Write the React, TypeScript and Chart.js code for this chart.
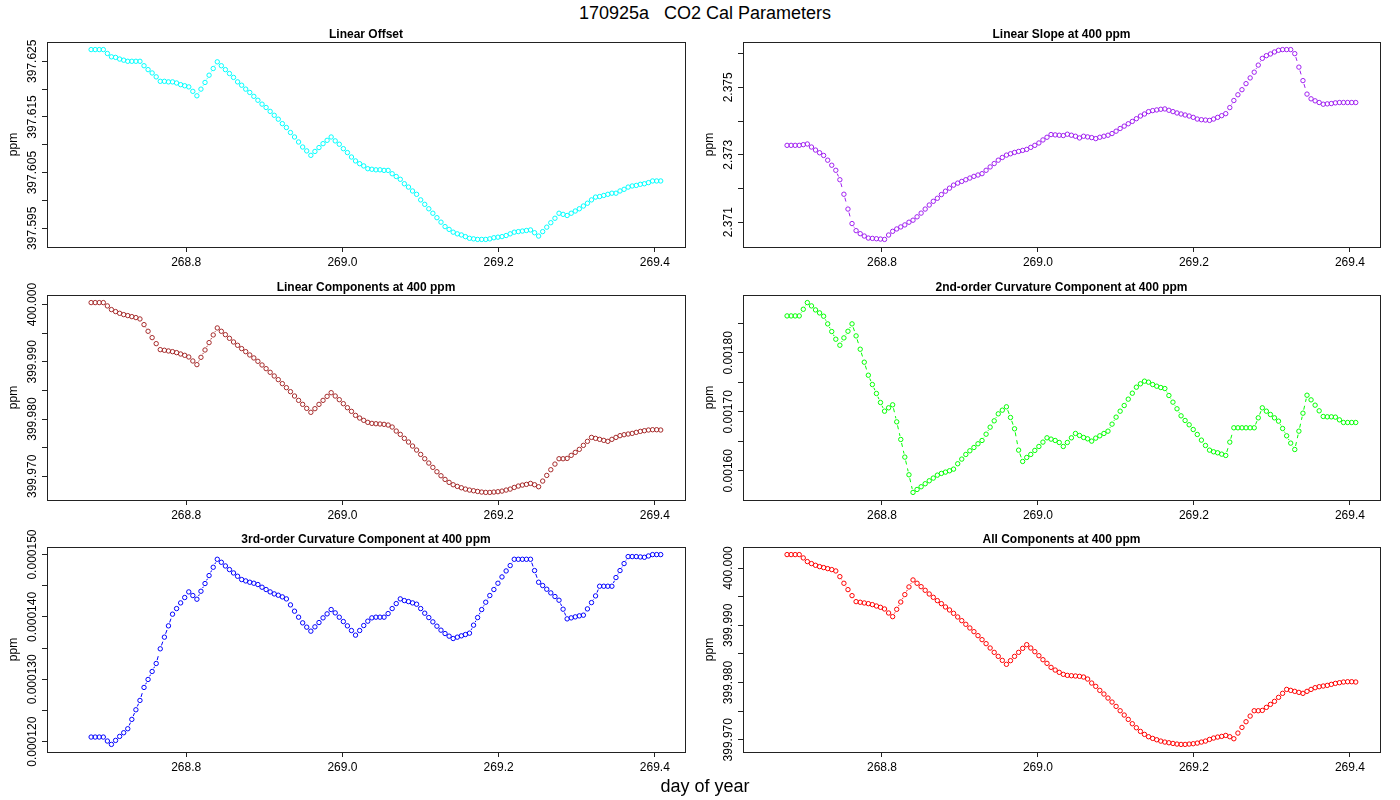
import React, { useEffect, useRef } from "react";
import { Chart, registerables } from "chart.js";

Chart.register(...registerables);

// day of year, one sample every 7.5 minutes
const days = [
  268.6783, 268.6835, 268.6887, 268.6939, 268.6991, 268.7043, 268.7096, 268.7148,
  268.72, 268.7252, 268.7304, 268.7356, 268.7408, 268.746, 268.7512, 268.7564,
  268.7616, 268.7668, 268.7721, 268.7773, 268.7825, 268.7877, 268.7929, 268.7981,
  268.8033, 268.8085, 268.8137, 268.8189, 268.8241, 268.8293, 268.8346, 268.8398,
  268.845, 268.8502, 268.8554, 268.8606, 268.8658, 268.871, 268.8762, 268.8814,
  268.8866, 268.8918, 268.8971, 268.9023, 268.9075, 268.9127, 268.9179, 268.9231,
  268.9283, 268.9335, 268.9387, 268.9439, 268.9491, 268.9543, 268.9596, 268.9648,
  268.97, 268.9752, 268.9804, 268.9856, 268.9908, 268.996, 269.0012, 269.0064,
  269.0116, 269.0168, 269.0221, 269.0273, 269.0325, 269.0377, 269.0429, 269.0481,
  269.0533, 269.0585, 269.0637, 269.0689, 269.0741, 269.0793, 269.0846, 269.0898,
  269.095, 269.1002, 269.1054, 269.1106, 269.1158, 269.121, 269.1262, 269.1314,
  269.1366, 269.1418, 269.1471, 269.1523, 269.1575, 269.1627, 269.1679, 269.1731,
  269.1783, 269.1835, 269.1887, 269.1939, 269.1991, 269.2043, 269.2096, 269.2148,
  269.22, 269.2252, 269.2304, 269.2356, 269.2408, 269.246, 269.2512, 269.2564,
  269.2616, 269.2668, 269.2721, 269.2773, 269.2825, 269.2877, 269.2929, 269.2981,
  269.3033, 269.3085, 269.3137, 269.3189, 269.3241, 269.3293, 269.3346, 269.3398,
  269.345, 269.3502, 269.3554, 269.3606, 269.3658, 269.371, 269.3762, 269.3814,
  269.3866, 269.3918, 269.3971, 269.4023, 269.4075,
];

const linearOffset = [
  397.6271, 397.6271, 397.6271, 397.6271, 397.6264, 397.6258, 397.6257, 397.6254, 397.6252, 397.625,
  397.625, 397.625, 397.625, 397.6242, 397.6235, 397.6229, 397.6222, 397.6214, 397.6214, 397.6213,
  397.6213, 397.6211, 397.6208, 397.6206, 397.6204, 397.6196, 397.6188, 397.62, 397.6212, 397.6225,
  397.6237, 397.6249, 397.6242, 397.6235, 397.6228, 397.6221, 397.6213, 397.6207, 397.62, 397.6194,
  397.6187, 397.618, 397.6173, 397.6167, 397.616, 397.6153, 397.6146, 397.6138, 397.6131, 397.6122,
  397.6114, 397.6105, 397.6096, 397.6089, 397.6081, 397.6088, 397.6095, 397.6102, 397.6108, 397.6114,
  397.6107, 397.6101, 397.6093, 397.6086, 397.6078, 397.6071, 397.6066, 397.6062, 397.6057, 397.6056,
  397.6055, 397.6055, 397.6054, 397.6054, 397.6048, 397.6043, 397.6038, 397.603, 397.6024, 397.6017,
  397.6011, 397.6001, 397.5993, 397.5985, 397.5977, 397.5969, 397.5961, 397.5953, 397.5948, 397.5943,
  397.594, 397.5938, 397.5935, 397.5932, 397.5931, 397.593, 397.593, 397.593, 397.5931, 397.5933,
  397.5934, 397.5935, 397.5937, 397.594, 397.5943, 397.5944, 397.5945, 397.5946, 397.5947, 397.5942,
  397.5936, 397.5944, 397.5952, 397.596, 397.5968, 397.5977, 397.5975, 397.5973, 397.5977, 397.5981,
  397.5985, 397.599, 397.5995, 397.6001, 397.6006, 397.6007, 397.6009, 397.6011, 397.6013, 397.6013,
  397.6017, 397.602, 397.6024, 397.6026, 397.6027, 397.6029, 397.603, 397.6032, 397.6035, 397.6035,
  397.6035,
];

const linearSlope = [
  2.37328, 2.37328, 2.37328, 2.37328, 2.3733, 2.37332, 2.37323, 2.37314, 2.37306, 2.37298,
  2.37284, 2.37269, 2.37254, 2.37226, 2.37183, 2.37139, 2.37096, 2.37075, 2.37066, 2.37059,
  2.37053, 2.37052, 2.37051, 2.3705, 2.37049, 2.37062, 2.37073, 2.3708, 2.37086, 2.37092,
  2.371, 2.37106, 2.37116, 2.37127, 2.37139, 2.37151, 2.37162, 2.37171, 2.37182, 2.37192,
  2.37201, 2.3721, 2.37216, 2.37221, 2.37226, 2.37231, 2.37236, 2.3724, 2.37244, 2.37254,
  2.37264, 2.37274, 2.37284, 2.37292, 2.37299, 2.37303, 2.37307, 2.3731, 2.37313, 2.37316,
  2.37322, 2.37328, 2.37335, 2.37344, 2.37352, 2.3736, 2.37359, 2.37358, 2.37357, 2.37361,
  2.37358, 2.37355, 2.3735, 2.37355, 2.37353, 2.37351, 2.37348, 2.37352, 2.37355, 2.37358,
  2.37363, 2.3737, 2.37378, 2.37385, 2.37392, 2.37399, 2.37407, 2.37415, 2.37421, 2.37428,
  2.37431, 2.37433, 2.37435, 2.37436, 2.37432, 2.37428, 2.37424, 2.37421, 2.37418, 2.37415,
  2.37411, 2.37406, 2.37404, 2.37403, 2.37402, 2.37406, 2.37411, 2.37416, 2.37422, 2.3744,
  2.37461, 2.37478, 2.37493, 2.37511, 2.37528, 2.37545, 2.37566, 2.37586, 2.37594, 2.37599,
  2.37605, 2.3761, 2.37612, 2.37612, 2.37612, 2.376, 2.3756, 2.3752, 2.3748, 2.37466,
  2.3746, 2.37455, 2.3745, 2.37451, 2.37452, 2.37454, 2.37455, 2.37455, 2.37455, 2.37455,
  2.37455,
];

const linearComponents = [
  400.00035, 400.00035, 400.00035, 400.00035, 399.99977, 399.99913, 399.99878, 399.99848, 399.99825, 399.99808,
  399.9979, 399.99773, 399.99749, 399.9965, 399.99534, 399.99423, 399.99318, 399.99213, 399.99202, 399.9919,
  399.99178, 399.99161, 399.99137, 399.99114, 399.99085, 399.99015, 399.98951, 399.99079, 399.99207, 399.99336,
  399.9947, 399.99592, 399.99534, 399.99475, 399.99411, 399.99347, 399.99289, 399.99231, 399.99178, 399.9912,
  399.99068, 399.99009, 399.98945, 399.98881, 399.98817, 399.98753, 399.98689, 399.98619, 399.98549, 399.98479,
  399.98403, 399.98327, 399.98257, 399.98187, 399.98118, 399.98182, 399.98257, 399.98327, 399.98397, 399.98461,
  399.98403, 399.98339, 399.98269, 399.98199, 399.98135, 399.98065, 399.98018, 399.97978, 399.97943, 399.97925,
  399.97919, 399.97914, 399.97908, 399.97896, 399.97861, 399.97791, 399.97733, 399.97663, 399.97599, 399.97529,
  399.97459, 399.97383, 399.97307, 399.97232, 399.97156, 399.9708, 399.9701, 399.96946, 399.96894, 399.96853,
  399.96824, 399.968, 399.96777, 399.9676, 399.96748, 399.96736, 399.96725, 399.96719, 399.96719, 399.96725,
  399.96731, 399.96742, 399.9676, 399.96777, 399.96806, 399.9683, 399.96847, 399.96859, 399.96876, 399.96853,
  399.96818, 399.96917, 399.97016, 399.97115, 399.97214, 399.97307, 399.97307, 399.97313, 399.97366, 399.97418,
  399.97471, 399.97541, 399.97611, 399.9768, 399.97663, 399.97646, 399.97628, 399.97611, 399.97646, 399.9768,
  399.9771, 399.97727, 399.97739, 399.9775, 399.97768, 399.97785, 399.97797, 399.97809, 399.97814, 399.97814,
  399.97809,
];

const curvature2nd = [
  0.0018627, 0.0018627, 0.0018627, 0.0018627, 0.001874, 0.0018853, 0.0018797, 0.0018729, 0.0018678, 0.0018622,
  0.0018492, 0.0018362, 0.0018232, 0.001813, 0.0018254, 0.0018367, 0.0018492, 0.0018288, 0.0018062, 0.0017842,
  0.0017621, 0.0017463, 0.0017311, 0.0017158, 0.0017011, 0.0017068, 0.0017119, 0.001683, 0.0016531, 0.0016232,
  0.0015932, 0.0015633, 0.0015683, 0.0015729, 0.001578, 0.001583, 0.0015876, 0.0015926, 0.0015955, 0.0015977,
  0.0016, 0.0016028, 0.0016119, 0.0016198, 0.0016277, 0.0016339, 0.0016395, 0.0016458, 0.0016514, 0.0016621,
  0.001674, 0.0016847, 0.0016966, 0.0017028, 0.0017085, 0.0016904, 0.0016712, 0.001635, 0.0016158, 0.0016226,
  0.0016277, 0.0016345, 0.0016412, 0.0016486, 0.0016559, 0.0016537, 0.0016514, 0.001648, 0.0016412, 0.001648,
  0.0016559, 0.0016633, 0.0016599, 0.0016565, 0.0016542, 0.0016503, 0.0016554, 0.0016593, 0.0016633, 0.0016672,
  0.0016791, 0.001691, 0.0017011, 0.0017107, 0.0017215, 0.0017316, 0.0017418, 0.0017475, 0.001752, 0.0017503,
  0.0017463, 0.0017435, 0.0017412, 0.0017395, 0.0017277, 0.0017164, 0.0017051, 0.0016932, 0.0016853, 0.001678,
  0.00167, 0.0016616, 0.001652, 0.0016429, 0.001635, 0.0016322, 0.0016305, 0.0016282, 0.001626, 0.0016486,
  0.0016729, 0.0016729, 0.0016729, 0.0016729, 0.0016729, 0.0016729, 0.0016898, 0.0017068, 0.0017011, 0.0016955,
  0.0016898, 0.0016842, 0.0016717, 0.0016593, 0.0016469, 0.0016361, 0.0016672, 0.0016977, 0.0017282, 0.0017203,
  0.0017113, 0.0017017, 0.0016921, 0.0016915, 0.0016915, 0.001691, 0.0016864, 0.0016819, 0.0016819, 0.0016819,
  0.0016819,
];

const curvature3rd = [
  0.00012075, 0.00012075, 0.00012075, 0.00012075, 0.00012011, 0.00011957, 0.00012021, 0.00012085, 0.00012144, 0.00012208,
  0.00012358, 0.00012512, 0.00012662, 0.0001287, 0.00012998, 0.00013126, 0.00013254, 0.00013489, 0.00013676, 0.00013857,
  0.00014044, 0.00014134, 0.00014225, 0.00014311, 0.00014401, 0.00014343, 0.00014284, 0.00014412, 0.00014535, 0.00014663,
  0.00014796, 0.00014924, 0.00014876, 0.00014817, 0.00014759, 0.00014705, 0.00014652, 0.00014599, 0.00014577, 0.00014556,
  0.0001454, 0.00014519, 0.00014476, 0.00014439, 0.00014401, 0.00014369, 0.00014348, 0.00014321, 0.00014289, 0.00014193,
  0.00014092, 0.00013996, 0.00013905, 0.00013836, 0.00013772, 0.00013841, 0.0001391, 0.00013985, 0.00014049, 0.00014118,
  0.00014065, 0.00013996, 0.00013926, 0.00013857, 0.00013782, 0.00013708, 0.00013782, 0.00013862, 0.00013932, 0.00013985,
  0.00013996, 0.00013996, 0.00013996, 0.00014054, 0.00014134, 0.00014214, 0.00014289, 0.00014262, 0.00014246, 0.00014225,
  0.00014204, 0.00014134, 0.0001406, 0.0001399, 0.00013921, 0.00013852, 0.00013788, 0.00013734, 0.00013692, 0.00013654,
  0.00013676, 0.00013697, 0.00013718, 0.0001374, 0.00013868, 0.0001399, 0.00014118, 0.00014236, 0.00014343, 0.00014439,
  0.0001454, 0.00014641, 0.00014737, 0.00014823, 0.00014924, 0.00014924, 0.00014924, 0.00014924, 0.00014924, 0.00014743,
  0.00014556, 0.00014503, 0.00014444, 0.00014385, 0.00014327, 0.00014268, 0.00014124, 0.00013969, 0.00013985, 0.00014001,
  0.00014017, 0.00014028, 0.00014129, 0.0001423, 0.00014337, 0.00014492, 0.00014492, 0.00014492, 0.00014492, 0.00014631,
  0.00014743, 0.00014855, 0.00014967, 0.00014967, 0.00014967, 0.00014961, 0.00014956, 0.00014977, 0.00014999, 0.00014999,
  0.00014999,
];

const allComponents = [
  400.00235, 400.00235, 400.00235, 400.00235, 400.00177, 400.00113, 400.00078, 400.00048, 400.00025, 400.00008,
  399.9999, 399.99973, 399.99949, 399.9985, 399.99734, 399.99623, 399.99518, 399.99413, 399.99402, 399.9939,
  399.99378, 399.99361, 399.99337, 399.99314, 399.99285, 399.99215, 399.99151, 399.99279, 399.99407, 399.99536,
  399.9967, 399.99792, 399.99734, 399.99675, 399.99611, 399.99547, 399.99489, 399.99431, 399.99378, 399.9932,
  399.99268, 399.99209, 399.99145, 399.99081, 399.99017, 399.98953, 399.98889, 399.98819, 399.98749, 399.98679,
  399.98603, 399.98527, 399.98457, 399.98387, 399.98318, 399.98382, 399.98457, 399.98527, 399.98597, 399.98661,
  399.98603, 399.98539, 399.98469, 399.98399, 399.98335, 399.98265, 399.98218, 399.98178, 399.98143, 399.98125,
  399.98119, 399.98114, 399.98108, 399.98096, 399.98061, 399.97991, 399.97933, 399.97863, 399.97799, 399.97729,
  399.97659, 399.97583, 399.97507, 399.97432, 399.97356, 399.9728, 399.9721, 399.97146, 399.97094, 399.97053,
  399.97024, 399.97, 399.96977, 399.9696, 399.96948, 399.96936, 399.96925, 399.96919, 399.96919, 399.96925,
  399.96931, 399.96942, 399.9696, 399.96977, 399.97006, 399.9703, 399.97047, 399.97059, 399.97076, 399.97053,
  399.97018, 399.97117, 399.97216, 399.97315, 399.97414, 399.97507, 399.97507, 399.97513, 399.97566, 399.97618,
  399.97671, 399.97741, 399.97811, 399.9788, 399.97863, 399.97846, 399.97828, 399.97811, 399.97846, 399.9788,
  399.9791, 399.97927, 399.97939, 399.9795, 399.97968, 399.97985, 399.97997, 399.98009, 399.98014, 399.98014,
  399.98009,
];

const dayTicks = [268.8, 269.0, 269.2, 269.4];

const offsetTicks = [397.595, 397.6, 397.605, 397.61, 397.615, 397.62, 397.625];
const offsetLabels = ["397.595", "397.605", "397.615", "397.625"];
const slopeTicks = [2.371, 2.372, 2.373, 2.374, 2.375, 2.376];
const slopeLabels = ["2.371", "2.373", "2.375"];
const componentTicks = [399.97, 399.975, 399.98, 399.985, 399.99, 399.995, 400.0];
const componentLabels = ["399.970", "399.980", "399.990", "400.000"];
const curv2Ticks = [0.0016, 0.00165, 0.0017, 0.00175, 0.0018, 0.00185];
const curv2Labels = ["0.00160", "0.00170", "0.00180"];
const curv3Ticks = [0.00012, 0.000125, 0.00013, 0.000135, 0.00014, 0.000145, 0.00015];
const curv3Labels = ["0.000120", "0.000130", "0.000140", "0.000150"];

const FONT = '"Liberation Sans", Arial, Helvetica, sans-serif';
const X_MIN = 268.6218;
const X_MAX = 269.4386;
const TOP_PAD = 22; // room for the panel title
const X_AXIS_H = 28;
const GAP = 3.6; // gap kept around each point by type = "b"

type PanelProps = {
  title: string;
  values: number[];
  color: string;
  ticks: number[];
  labels: string[];
  colLeft: number;
  boxLeft: number;
  boxRight: number;
  boxTop: number;
  boxBottom: number;
};

const Panel = ({ title, values, color, ticks, labels, colLeft, boxLeft, boxRight, boxTop, boxBottom }: PanelProps) => {
  const ref = useRef<HTMLCanvasElement | null>(null);
  const height = boxBottom - boxTop + TOP_PAD + X_AXIS_H;

  useEffect(() => {
    if (!ref.current) return;
    const lo = Math.min(...values);
    const hi = Math.max(...values);
    const ext = (hi - lo) * 0.04; // R's default axis extension

    const rDecor = {
      id: "rDecor",
      beforeDatasetsDraw(chart: any) {
        // dashed joins between points, stopping short of each circle
        const pts = chart.getDatasetMeta(0).data;
        const ctx = chart.ctx;
        ctx.save();
        ctx.strokeStyle = color;
        ctx.lineWidth = 1;
        ctx.setLineDash([4, 4]);
        for (let k = 1; k < pts.length; k++) {
          const a = pts[k - 1];
          const b = pts[k];
          const dx = b.x - a.x;
          const dy = b.y - a.y;
          const d = Math.hypot(dx, dy);
          if (d <= 2 * GAP) continue;
          const ux = dx / d;
          const uy = dy / d;
          ctx.beginPath();
          ctx.moveTo(a.x + ux * GAP, a.y + uy * GAP);
          ctx.lineTo(b.x - ux * GAP, b.y - uy * GAP);
          ctx.stroke();
        }
        ctx.restore();
      },
      afterDraw(chart: any) {
        const { ctx, chartArea: ca } = chart;
        const yScale = chart.scales.y;
        ctx.save();
        ctx.strokeStyle = "#222";
        ctx.lineWidth = 1;
        ctx.strokeRect(
          Math.round(ca.left) + 0.5,
          Math.round(ca.top) + 0.5,
          Math.round(ca.right - ca.left),
          Math.round(ca.bottom - ca.top)
        );
        ctx.fillStyle = "#000";
        ctx.font = `12px ${FONT}`;
        ctx.textAlign = "center";
        ctx.textBaseline = "middle";
        labels.forEach((s) => {
          const y = yScale.getPixelForValue(parseFloat(s));
          ctx.save();
          ctx.translate(ca.left - 14.5, y);
          ctx.rotate(-Math.PI / 2);
          ctx.fillText(s, 0, 0);
          ctx.restore();
        });
        ctx.save();
        ctx.translate(ca.left - 33, (ca.top + ca.bottom) / 2);
        ctx.rotate(-Math.PI / 2);
        ctx.fillText("ppm", 0, 0);
        ctx.restore();
        ctx.font = `bold 12px ${FONT}`;
        ctx.textBaseline = "alphabetic";
        ctx.fillText(title, (ca.left + ca.right) / 2, ca.top - 4);
        ctx.restore();
      },
    };

    const tickGrid = { drawOnChartArea: false, drawTicks: true, tickLength: 5, color: "#222", lineWidth: 1 };

    const chart = new Chart(ref.current, {
      type: "scatter",
      data: {
        datasets: [
          {
            data: days.map((d, i) => ({ x: d, y: values[i] })),
            borderColor: color,
            backgroundColor: "rgba(0,0,0,0)",
            pointRadius: 2.2,
            pointHoverRadius: 2.2,
            pointBorderWidth: 1,
            showLine: false,
          },
        ],
      },
      options: {
        responsive: false,
        animation: false,
        devicePixelRatio: 1,
        events: [],
        layout: {
          padding: { top: TOP_PAD, right: colLeft + 700 - boxRight, bottom: 0, left: 0 },
          autoPadding: false,
        },
        plugins: { legend: { display: false }, tooltip: { enabled: false } },
        scales: {
          x: {
            type: "linear",
            min: X_MIN,
            max: X_MAX,
            afterBuildTicks: (s: any) => {
              s.ticks = dayTicks.map((v) => ({ value: v }));
            },
            afterFit: (s: any) => {
              s.height = X_AXIS_H;
            },
            grid: tickGrid,
            border: { display: false },
            ticks: {
              font: { family: FONT, size: 12 },
              color: "#000",
              padding: 3,
              maxRotation: 0,
              minRotation: 0,
              autoSkip: false,
              callback: (v: any) => Number(v).toFixed(1),
            },
          },
          y: {
            type: "linear",
            min: lo - ext,
            max: hi + ext,
            afterBuildTicks: (s: any) => {
              s.ticks = ticks.map((v) => ({ value: v }));
            },
            afterFit: (s: any) => {
              s.width = boxLeft - colLeft;
            },
            grid: tickGrid,
            border: { display: false },
            ticks: { display: false },
          },
        },
      } as any,
      plugins: [rDecor],
    });
    return () => chart.destroy();
  }, []);

  return (
    <canvas
      ref={ref}
      width={700}
      height={height}
      style={{ position: "absolute", left: colLeft, top: boxTop - TOP_PAD, width: 700, height }}
    />
  );
};

const LEFT = { colLeft: 0, boxLeft: 47, boxRight: 685 };
const RIGHT = { colLeft: 700, boxLeft: 743, boxRight: 1380 };
const ROW1 = { boxTop: 42, boxBottom: 247 };
const ROW2 = { boxTop: 295, boxBottom: 500 };
const ROW3 = { boxTop: 547, boxBottom: 752 };

const App = () => {
  return (
    <div
      style={{
        position: "absolute",
        left: 0,
        top: 0,
        width: 1400,
        height: 800,
        background: "#fff",
        fontFamily: FONT,
        overflow: "hidden",
      }}
    >
      <div style={{ position: "absolute", left: 5, top: 3, width: 1400, textAlign: "center", fontSize: 18, lineHeight: "20px", whiteSpace: "pre" }}>
        {"170925a   CO2 Cal Parameters"}
      </div>
      <Panel title="Linear Offset" values={linearOffset} color="#00FFFF" ticks={offsetTicks} labels={offsetLabels} {...LEFT} {...ROW1} />
      <Panel title="Linear Slope at 400 ppm" values={linearSlope} color="#A020F0" ticks={slopeTicks} labels={slopeLabels} {...RIGHT} {...ROW1} />
      <Panel title="Linear Components at 400 ppm" values={linearComponents} color="#A52A2A" ticks={componentTicks} labels={componentLabels} {...LEFT} {...ROW2} />
      <Panel title="2nd-order Curvature Component at 400 ppm" values={curvature2nd} color="#00FF00" ticks={curv2Ticks} labels={curv2Labels} {...RIGHT} {...ROW2} />
      <Panel title="3rd-order Curvature Component at 400 ppm" values={curvature3rd} color="#0000FF" ticks={curv3Ticks} labels={curv3Labels} {...LEFT} {...ROW3} />
      <Panel title="All Components at 400 ppm" values={allComponents} color="#FF0000" ticks={componentTicks} labels={componentLabels} {...RIGHT} {...ROW3} />
      <div style={{ position: "absolute", left: 5, top: 776, width: 1400, textAlign: "center", fontSize: 18, lineHeight: "20px" }}>
        day of year
      </div>
    </div>
  );
};

export default App;
